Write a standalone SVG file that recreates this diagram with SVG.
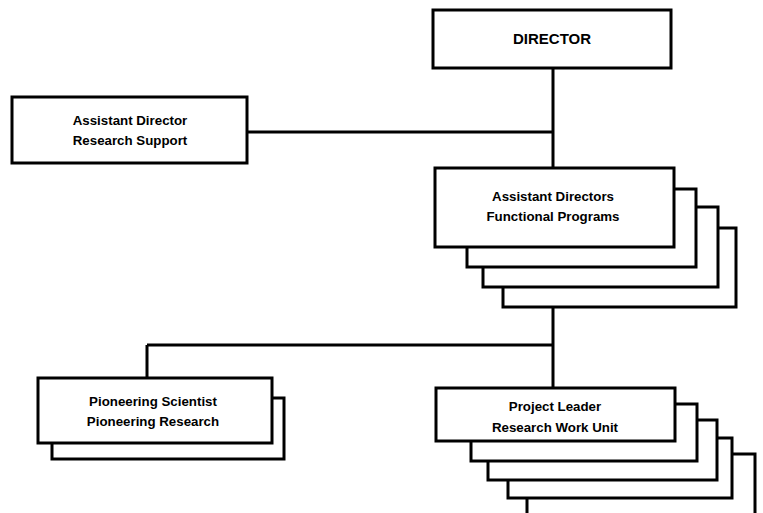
<svg xmlns="http://www.w3.org/2000/svg" width="763" height="513" viewBox="0 0 763 513">
<style>
.b{fill:#fff;stroke:#000;stroke-width:3}
.c{fill:none;stroke:#000;stroke-width:3}
text{font-family:"Liberation Sans",Arial,sans-serif;font-weight:bold;font-size:13.3px;text-anchor:middle;fill:#000}
.t{font-size:15px}
</style>
<rect width="763" height="513" fill="#fff"/>
<g id="connectors">
<path class="c" d="M553 68V168M247 132H553M553 307V388M147 345H553M147 345V378"/>
</g>
<g id="director">
<rect class="b" x="433" y="10" width="238" height="58"/>
<text class="t" x="552" y="44">DIRECTOR</text>
</g>
<g id="asst-director">
<rect class="b" x="12" y="97" width="235" height="66"/>
<text x="130" y="125">Assistant Director</text>
<text x="130" y="145">Research Support</text>
</g>
<g id="asst-directors">
<rect class="b" x="503" y="228" width="233" height="79"/>
<rect class="b" x="483" y="207" width="235" height="80"/>
<rect class="b" x="467" y="189" width="229" height="78"/>
<rect class="b" x="435" y="168" width="239" height="79"/>
<text x="553" y="201">Assistant Directors</text>
<text x="553" y="221">Functional Programs</text>
</g>
<g id="pioneering">
<rect class="b" x="52" y="398" width="232" height="61"/>
<rect class="b" x="38" y="378" width="234" height="65"/>
<text x="153" y="406">Pioneering Scientist</text>
<text x="153" y="426">Pioneering Research</text>
</g>
<g id="project-leader">
<rect class="b" x="527" y="454" width="228" height="80"/>
<rect class="b" x="508" y="438" width="224" height="60"/>
<rect class="b" x="488" y="420" width="229" height="60"/>
<rect class="b" x="471" y="404" width="226" height="57"/>
<rect class="b" x="436" y="388" width="239" height="53"/>
<text x="555" y="411">Project Leader</text>
<text x="555" y="432">Research Work Unit</text>
</g>
</svg>
